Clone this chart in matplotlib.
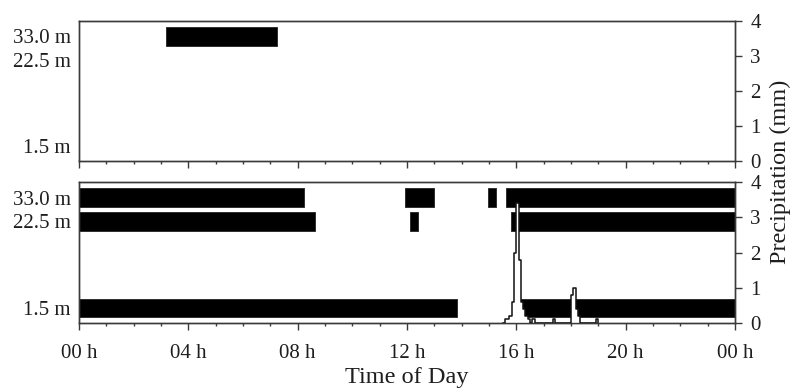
import matplotlib
matplotlib.use("Agg")
import matplotlib.pyplot as plt
from matplotlib.ticker import MultipleLocator, FixedLocator
import numpy as np

plt.rcParams['font.family'] = ['Liberation Serif', 'DejaVu Serif']

heights = ["33.0 m", "22.5 m", "1.5 m"]

# wet periods per sensor height, (start, end) in hours of day
top_wet = {
    "33.0 m": [(3.17, 7.24)],
    "22.5 m": [],
    "1.5 m": [],
}
bottom_wet = {
    "33.0 m": [(0.0, 8.24), (11.93, 12.99), (14.95, 15.26), (15.62, 24.0)],
    "22.5 m": [(0.0, 8.63), (12.11, 12.41), (15.79, 24.0)],
    "1.5 m": [(0.0, 13.84), (16.1, 24.0)],
}

# 5 minute precipitation (mm), bottom day only
precip_clock = ["15:30", "15:35", "15:40", "15:45", "15:50", "15:55", "16:00",
                "16:05", "16:10", "16:15", "16:20", "16:25", "16:30", "16:35",
                "16:40", "17:20", "17:25", "18:00", "18:05", "18:10", "18:15",
                "18:20", "18:55", "19:00"]
precip_mm = [0.0, 0.1, 0.1, 0.2, 0.6, 2.0, 3.4,
             1.8, 0.6, 0.4, 0.2, 0.1, 0.0, 0.1,
             0.0, 0.1, 0.0, 0.8, 1.0, 0.4, 0.2,
             0.0, 0.1, 0.0]

hour_ticks = [0, 4, 8, 12, 16, 20, 24]
hour_labels = ["00 h", "04 h", "08 h", "12 h", "16 h", "20 h", "00 h"]

# row centres on the 0-4 precipitation scale
row_pos = [3.56, 2.88, 0.43]
row_h = 0.52

ink = '#1e1e1e'
frame = '#3a3a3a'


def clock_to_hours(c):
    h, m = c.split(":")
    return int(h) + int(m) / 60.0


def style_axes(ax, ax2, show_labels):
    ax.set_xlim(0, 24)
    ax.set_ylim(0, 4)
    ax2.set_ylim(0, 4)
    ax.set_yticks(row_pos)
    ax.set_yticklabels(heights)
    ax.tick_params(axis='y', length=0, pad=6, labelsize=15, labelcolor=ink)
    ax.xaxis.set_major_locator(FixedLocator(hour_ticks))
    ax.xaxis.set_minor_locator(MultipleLocator(1))
    ax.tick_params(axis='x', which='major', direction='out', length=5, width=1,
                   color=frame, pad=10, labelsize=15, labelcolor=ink)
    ax.tick_params(axis='x', which='minor', direction='out', length=2.5, width=1,
                   color=frame)
    if show_labels:
        ax.set_xticklabels(hour_labels)
    else:
        ax.set_xticklabels([])
    ax2.set_yticks([0, 1, 2, 3, 4])
    ax2.tick_params(axis='y', direction='out', length=5, width=1, color=frame,
                    pad=6, labelsize=15, labelcolor=ink)
    for a in (ax, ax2):
        for s in a.spines.values():
            s.set_color(frame)
            s.set_linewidth(1)


def draw_rows(ax, wet):
    for name, y in zip(heights, row_pos):
        segs = [(a, b - a) for a, b in wet[name]]
        if segs:
            ax.broken_barh(segs, (y - row_h / 2, row_h), facecolors='black',
                           edgecolors='#222222', linewidth=0.6)


fig = plt.figure(figsize=(8.03, 3.92), dpi=100)
fig.patch.set_facecolor('white')

ax_top = fig.add_axes([0.0984, 0.5893, 0.8169, 0.3571])
ax_top2 = ax_top.twinx()
ax_bot = fig.add_axes([0.0984, 0.1760, 0.8169, 0.3597])
ax_bot2 = ax_bot.twinx()

draw_rows(ax_top, top_wet)
draw_rows(ax_bot, bottom_wet)

t = np.array([clock_to_hours(c) for c in precip_clock])
p = np.array(precip_mm)
ax_bot2.fill_between(t, 0, p, step='post', color='white', linewidth=0, zorder=2)
ax_bot2.step(t, p, where='post', color='#111111', linewidth=1.1, zorder=3)

style_axes(ax_top, ax_top2, False)
style_axes(ax_bot, ax_bot2, True)

fig.text(0.507, 0.036, "Time of Day", ha='center', va='center', fontsize=17.5,
         color=ink)
fig.text(0.972, 0.561, "Precipitation (mm)", ha='center', va='center',
         rotation=90, fontsize=17.5, color=ink)

fig.savefig("out.png", dpi=100, facecolor='white')
